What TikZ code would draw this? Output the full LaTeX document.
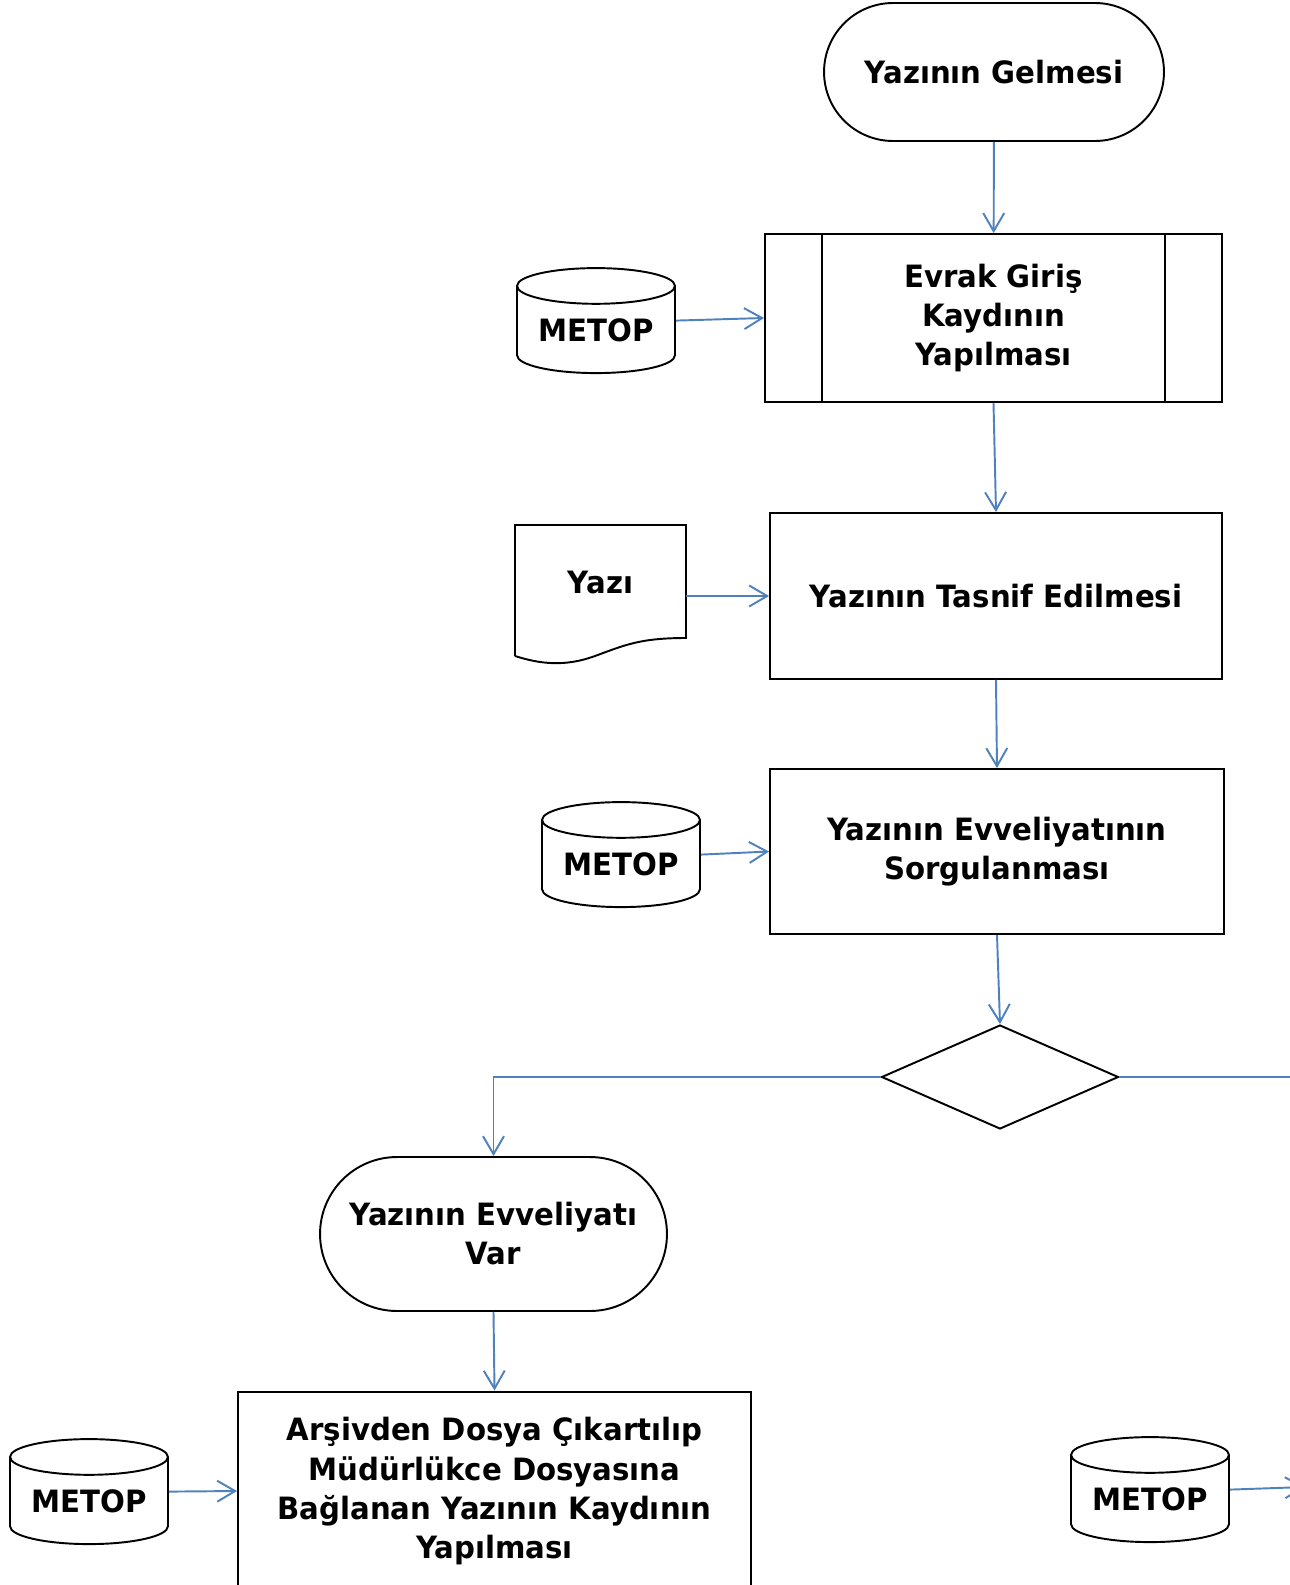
\documentclass[tikz,border=0pt]{standalone}
\usepackage{fontspec}
\setmainfont{DejaVu Sans}[FakeStretch=0.95]
\usepackage{tikz}
\usetikzlibrary{
    arrows.meta,
    positioning,
    calc,
    shapes.geometric,
    shapes.misc
}
\definecolor{AkisMavi}{RGB}{79,129,189}
\newcommand{\kutuyazi}{\fontsize{17.5}{22.2}\selectfont\bfseries}

\begin{document}
\begin{tikzpicture}[
    x=0.02cm,y=-0.02cm,
    kutu/.style={
        draw,
        line width=1.1pt,
        align=center,
        inner sep=0pt,
        font=\kutuyazi
    },
    terminal/.style={
        kutu,
        rounded rectangle,
        rounded rectangle arc length=180
    },
    veritabani/.style={
        kutu,
        cylinder,
        shape border rotate=90,
        aspect=0.31,
        minimum width=3.16cm,
        minimum height=2.1cm
    },
    akis/.style={
        AkisMavi,
        line width=1.1pt,
        -{Straight Barb[length=0.36cm,width=0.42cm]}
    }
]
%
    \useasboundingbox (0,0) rectangle (1289,1585);
%
    \node[
        terminal,
        minimum width=6.8cm,
        minimum height=2.76cm
    ] (gelme) at (994,72) {Yazının Gelmesi};
%
    \node[
        kutu,
        minimum width=9.14cm,
        minimum height=3.36cm
    ] (evrak) at (993.5,318) {Evrak Giriş\\Kaydının\\Yapılması};
    \draw[line width=1.1pt]
    ([xshift=1.16cm]evrak.north west)
    --
    ([xshift=1.16cm]evrak.south west);
    \draw[line width=1.1pt]
    ([xshift=-1.16cm]evrak.north east)
    --
    ([xshift=-1.16cm]evrak.south east);
%
    \node[veritabani] (metopa) at (596,330) {METOP};
%
    \node[
        kutu,
        minimum width=9.04cm,
        minimum height=3.32cm
    ] (tasnif) at (996,596) {Yazının Tasnif Edilmesi};
%
    % belge sekli
    \node[
        minimum width=3.42cm,
        minimum height=2.6cm,
        inner sep=0pt
    ] (yazi) at (600.5,590) {};
    \node[
        font=\kutuyazi
    ] (yazimetin) at ([yshift=0.14cm]yazi.center) {Yazı};
    \draw[line width=1.1pt]
    (515,656)
    --
    (515,525)
    --
    (686,525)
    --
    (686,638)
    .. controls (640,638) and (625,645) .. (595,656)
    .. controls (565,667) and (540,664) .. (515,656);
%
    \node[veritabani] (metopb) at (621,864) {METOP};
%
    \node[
        kutu,
        minimum width=9.08cm,
        minimum height=3.3cm
    ] (sorgu) at (997,851.5) {Yazının Evveliyatının\\Sorgulanması};
%
    \node[
        kutu,
        diamond,
        minimum width=4.74cm,
        minimum height=2.08cm
    ] (karar) at (1000,1077) {};
%
    \node[
        terminal,
        minimum width=6.94cm,
        minimum height=3.08cm
    ] (var) at (493.5,1234) {Yazının Evveliyatı\\Var};
%
    \node[
        kutu,
        minimum width=10.26cm,
        minimum height=3.98cm
    ] (arsiv) at (494.5,1491) {Arşivden Dosya Çıkartılıp\\Müdürlükce Dosyasına\\Bağlanan Yazının Kaydının\\Yapılması};
%
    \node[veritabani] (metopc) at (89,1501) {METOP};
    \node[veritabani] (metopd) at (1150,1499) {METOP};
%
    \coordinate (sag) at (1300,1077);
    \coordinate (sagok) at (1305,1487);
%
    \draw[akis] (gelme) -- (evrak);
    \draw[akis] (metopa.shape center -| metopa.east) -- (evrak.west);
    \draw[akis] (evrak.south) -- (tasnif.north);
    \draw[akis] (yazi.east |- tasnif.west) -- (tasnif.west);
    \draw[akis] (tasnif.south) -- (sorgu.north);
    \draw[akis] (metopb.shape center -| metopb.east) -- (sorgu.west);
    \draw[akis] (sorgu.south) -- (karar.north);
    \draw[akis] (karar.west) -| (var.north);
    \draw[AkisMavi, line width=1.1pt] (karar.east) -- (sag);
    \draw[akis] (var.south) -- (arsiv.north);
    \draw[akis] (metopc.shape center -| metopc.east) -- (arsiv.west);
    \draw[akis] (metopd.shape center -| metopd.east) -- (sagok);
%
\end{tikzpicture}
\end{document}
